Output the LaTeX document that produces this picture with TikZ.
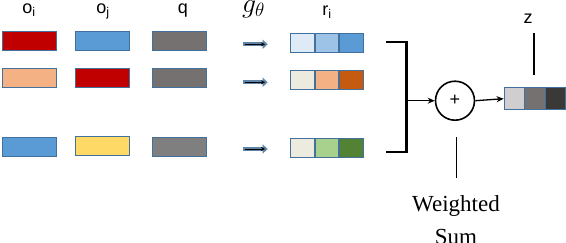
\documentclass[tikz,border=0pt]{standalone}
\usepackage{fontspec}
\setmainfont{Liberation Serif}
\newfontfamily\labfont{Liberation Sans}
\usetikzlibrary{arrows.meta}
\definecolor{bord}{HTML}{41719C}
\definecolor{cred}{HTML}{C00000}
\definecolor{cblue}{HTML}{5B9BD5}
\definecolor{cgray}{HTML}{767171}
\definecolor{cgrayb}{HTML}{7F7F7F}
\definecolor{csalmon}{HTML}{F4B183}
\definecolor{cgold}{HTML}{FFD966}
\definecolor{cb1}{HTML}{DEEBF7}
\definecolor{cb2}{HTML}{9DC3E6}
\definecolor{cpale}{HTML}{EDEBE0}
\definecolor{co3}{HTML}{C55A11}
\definecolor{cg2}{HTML}{A9D18E}
\definecolor{cg3}{HTML}{548235}
\definecolor{cz1}{HTML}{D0CECE}
\definecolor{cz3}{HTML}{3B3838}
\begin{document}
\begin{tikzpicture}[x=1pt,y=-1pt,
  vec/.style={draw=bord, line width=1.3pt, minimum width=54pt, minimum height=19pt, inner sep=0pt},
  cell/.style={draw=bord, line width=1.3pt, minimum width=24pt, minimum height=19pt, inner sep=0pt},
  zcell/.style={draw=bord, line width=1.3pt, minimum width=20.5pt, minimum height=22pt, inner sep=0pt},
  lab/.style={font=\labfont\fontsize{18}{20}\selectfont, anchor=base, inner sep=0pt},
  serif/.style={font=\fontsize{23}{26}\selectfont, anchor=base, inner sep=0pt},
  conn/.style={line width=1.3pt, -{Stealth[length=7pt,width=6pt]}},
  gband/.style={line width=4pt, bord!85, -{Triangle[length=5pt,width=9pt]}},
  garrow/.style={line width=0.9pt, -{Stealth[length=4pt,width=4pt]}}
]
\useasboundingbox (0,0) rectangle (566,242);
% labels
\node[lab] (loi) at (29,13) {o\textsubscript{i}};
\node[lab] (loj) at (103,13) {o\textsubscript{j}};
\node[lab] (lq) at (183,13) {q};
\node[lab] (lg) at (253.7,12.5) {\scalebox{1.6}{$g_\theta$}};
\node[lab] (lr) at (327,15) {r\textsubscript{i}};
\node[lab] (lz) at (528,23) {z};
% row 1
\node[vec, fill=cred] (a1) at (29.2,40.7) {};
\node[vec, fill=cblue] (b1) at (102.3,40.7) {};
\node[vec, fill=cgray] (c1) at (179.2,40.7) {};
% row 2
\node[vec, fill=csalmon] (a2) at (29.2,78) {};
\node[vec, fill=cred] (b2) at (102.3,78) {};
\node[vec, fill=cgray] (c2) at (179.2,78) {};
% row 3
\node[vec, fill=cblue] (a3) at (29.2,147) {};
\node[vec, fill=cgold] (b3) at (102.3,146) {};
\node[vec, fill=cgrayb] (c3) at (179.2,147) {};
% g arrows
\foreach \y/\n in {44.3/1,82.3/2,149/3}{
  \coordinate (gs\n) at (243.3,\y);
  \coordinate (ge\n) at (267.7,\y);
  \coordinate (gi\n) at (244.5,\y);
  \coordinate (gf\n) at (265,\y);
  \draw[gband] (gs\n) -- (ge\n);
  \draw[garrow] (gi\n) -- (gf\n);
}
% r vectors
\node[cell, fill=cb1] (r1a) at (302.8,43.3) {};
\node[cell, fill=cb2] (r1b) at (327,43.3) {};
\node[cell, fill=cblue] (r1c) at (351.2,43.3) {};
\node[cell, fill=cpale] (r2a) at (302.8,80.3) {};
\node[cell, fill=csalmon] (r2b) at (327,80.3) {};
\node[cell, fill=co3] (r2c) at (351.2,80.3) {};
\node[cell, fill=cpale] (r3a) at (302.8,148.3) {};
\node[cell, fill=cg2] (r3b) at (327,148.3) {};
\node[cell, fill=cg3] (r3c) at (351.2,148.3) {};
% bracket
\coordinate (bt) at (386,42.3);
\coordinate (bb) at (386,151.7);
\coordinate (bm) at (406.5,100.7);
\draw[line width=2.2pt] (bt) -- (406.5,42.3) -- (406.5,151.7) -- (bb);
% sum
\node[draw, circle, line width=1.6pt, minimum size=39pt, inner sep=0pt, font=\labfont\fontsize{18}{20}\selectfont] (sum) at (455,100.7) {+};
\draw[conn] (bm) -- (sum.west);
% z vector
\node[zcell, fill=cz1] (z1) at (514.5,98.7) {};
\node[zcell, fill=cgray] (z2) at (535,98.7) {};
\node[zcell, fill=cz3] (z3) at (555.5,98.7) {};
\draw[conn] (sum.east) -- (z1.west);
% pointer lines
\coordinate (zt) at (534,33);
\coordinate (zb) at (534,75);
\draw[line width=1.2pt] (zt) -- (zb);
\coordinate (st) at (456,137);
\coordinate (sb) at (456,178);
\draw[line width=0.8pt] (st) -- (sb);
\node[serif] (w1) at (456,211.7) {Weighted};
\node[serif] (w2) at (456,244.3) {Sum};
\end{tikzpicture}
\end{document}
